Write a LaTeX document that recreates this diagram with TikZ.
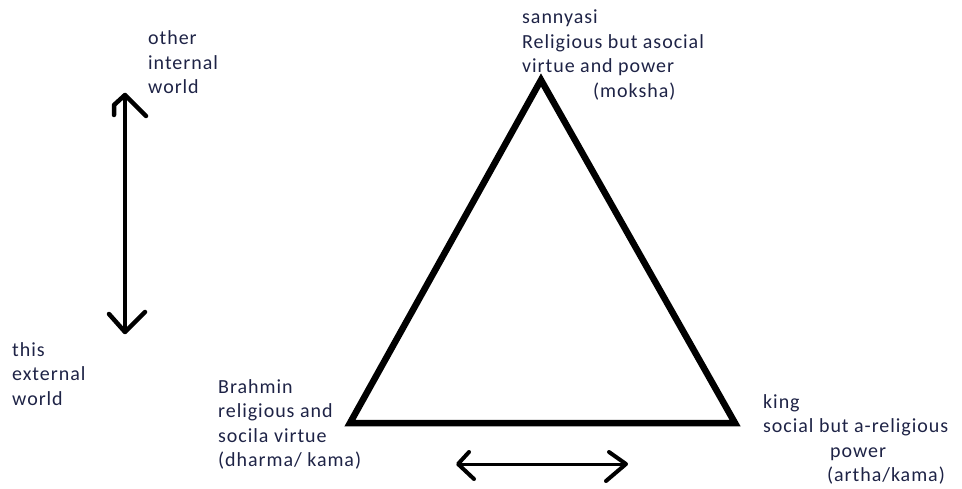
\documentclass[tikz,border=0pt]{standalone}
\usepackage{fontspec}
\setmainfont{Carlito}[LetterSpace=4.8]
\definecolor{txt}{RGB}{30,35,70}
\begin{document}
\begin{tikzpicture}[x=1pt,y=-1pt,
  lbl/.style={anchor=base west,inner sep=0pt,text=txt,font=\fontsize{20}{24}\selectfont},
  tri/.style={line width=6.5pt,line join=miter,black},
  shaft/.style={line width=4pt,black,line cap=round},
  barb/.style={line width=4.5pt,black,line cap=round,line join=round}]
\useasboundingbox (0,0) rectangle (962,489);
% triangle
\coordinate (apex) at (541,80);
\coordinate (bl) at (350,423);
\coordinate (br) at (735,423);
\draw[tri] (apex) -- (bl) -- (br) -- cycle;
% vertical arrow
\coordinate (vt) at (125,95);
\coordinate (vb) at (125,332);
\draw[shaft] (vt) -- (vb);
\draw[barb] (114,115) -- (114,105) -- (vt) -- (146,116);
\draw[barb] (109,314) -- (vb) -- (145,312);
% horizontal arrow
\coordinate (hl) at (458,464);
\coordinate (hr) at (626,464);
\draw[shaft,line width=3pt] (hl) -- (hr);
\draw[barb,line width=4pt] (469,452) -- (hl) -- (474,479);
\draw[barb,line width=4pt] (609,452) -- (hr) -- (606,481);
% sannyasi
\node[lbl] (s1) at (522,24) {sannyasi};
\node[lbl] (s2) at (522,48.5) {Religious but asocial};
\node[lbl] (s3) at (522,73) {virtue and power};
\node[lbl] (s4) at (593,97.5) {(moksha)};
% brahmin
\node[lbl] (b1) at (218,393) {Brahmin};
\node[lbl] (b2) at (218,417.5) {religious and};
\node[lbl] (b3) at (218,442) {socila virtue};
\node[lbl] (b4) at (218,466.5) {(dharma/ kama)};
% king
\node[lbl] (k1) at (763,408) {king};
\node[lbl] (k2) at (763,432.5) {social but a-religious};
\node[lbl] (k3) at (830,457) {power};
\node[lbl] (k4) at (827,481.5) {(artha/kama)};
% other internal world
\node[lbl] (o1) at (148,45) {other};
\node[lbl] (o2) at (148,69.5) {internal};
\node[lbl] (o3) at (148,94) {world};
% this external world
\node[lbl] (e1) at (12,356) {this};
\node[lbl] (e2) at (12,380.5) {external};
\node[lbl] (e3) at (12,405) {world};
\end{tikzpicture}
\end{document}
